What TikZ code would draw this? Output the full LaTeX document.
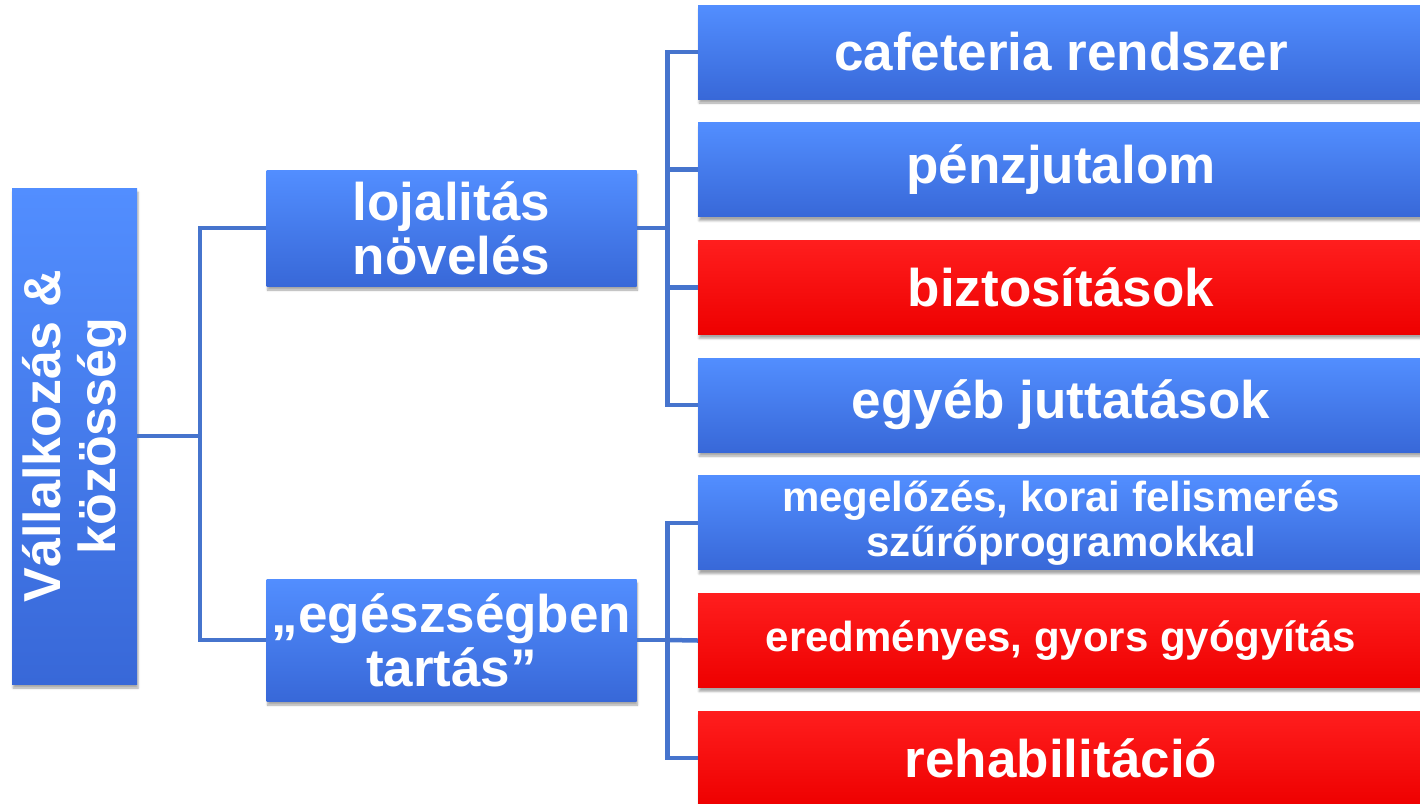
\documentclass[tikz,border=0pt]{standalone}
\usepackage{fontspec}
\setmainfont{Liberation Sans}
\usetikzlibrary{shadows.blur}

\definecolor{boxtop}{RGB}{82,142,255}
\definecolor{boxbot}{RGB}{56,104,216}
\definecolor{redtop}{RGB}{255,30,30}
\definecolor{redbot}{RGB}{238,0,0}
\definecolor{linkcol}{RGB}{70,116,205}

\tikzset{
  bluebox/.style={top color=boxtop, bottom color=boxbot, text=white, align=center, inner sep=0pt,
    font=\fontsize{53}{55}\selectfont\bfseries,
    blur shadow={shadow xshift=1pt, shadow yshift=-4pt, shadow blur steps=5, shadow opacity=35}},
  redbox/.style={bluebox, top color=redtop, bottom color=redbot},
  bluesmall/.style={bluebox, font=\fontsize{42}{45}\selectfont\bfseries},
  redsmall/.style={redbox, font=\fontsize{42}{45}\selectfont\bfseries},
  link/.style={draw=linkcol, line width=4.5pt}
}

\begin{document}
\begin{tikzpicture}[x=1pt, y=-1pt]
    \useasboundingbox (0,0) rectangle (1420,803);

    % Define box size
    \def\boxwidth{726}
    \def\boxheight{94}

    % Define items on the right
    \def\items{%
      c1/cafeteria rendszer/bluebox,%
      c2/pénzjutalom/bluebox,%
      c3/biztosítások/redbox,%
      c4/egyéb juttatások/bluebox,%
      c5/{megelőzés, korai felismerés\\szűrőprogramokkal}/bluesmall,%
      c6/{eredményes, gyors gyógyítás}/redsmall,%
      c7/rehabilitáció/redbox%
    }

    % Draw root and middle boxes
    \node[bluebox, minimum width=125, minimum height=496] (root) at (74.5,436) {};
    \node[rotate=90, text=white, align=center, font=\fontsize{52}{55}\selectfont\bfseries]
      (rootlbl) at (root.center) {Vállalkozás \&\\közösség};
    \node[bluebox, minimum width=370, minimum height=116] (loy) at (451.5,228)
      {lojalitás\\[-1pt]növelés};
    \node[bluebox, minimum width=370, minimum height=122] (egs) at (451.5,640)
      {„egészségben\\[-1pt]tartás”};

    % Draw item boxes
    \foreach \name/\txt/\sty [count=\i] in \items {
        \pgfmathsetmacro\ypos{52 + (\i-1)*117.7}
        \node[\sty, minimum width=\boxwidth, minimum height=\boxheight]
          (\name) at (698+\boxwidth/2, \ypos) {\txt};
    }

    % Draw connectors
    \coordinate (j1) at ([xshift=63pt]root.east);
    \coordinate (j2) at ([xshift=31pt]loy.east);
    \coordinate (j3) at ([xshift=31pt]egs.east);
    \draw[link] (root.east) -- (j1);
    \draw[link] (loy.west) -| (j1) |- (egs.west);
    \draw[link] (loy.east) -- (j2);
    \draw[link] (c1.west) -| (j2) |- (c4.west);
    \draw[link] (c2.west -| j2) -- (c2.west);
    \draw[link] (c3.west -| j2) -- (c3.west);
    \draw[link] (egs.east) -- (j3);
    \draw[link] (c5.west) -| (j3) |- (c7.west);
    \draw[link] (j3) -- (c6.west);

\end{tikzpicture}
\end{document}
